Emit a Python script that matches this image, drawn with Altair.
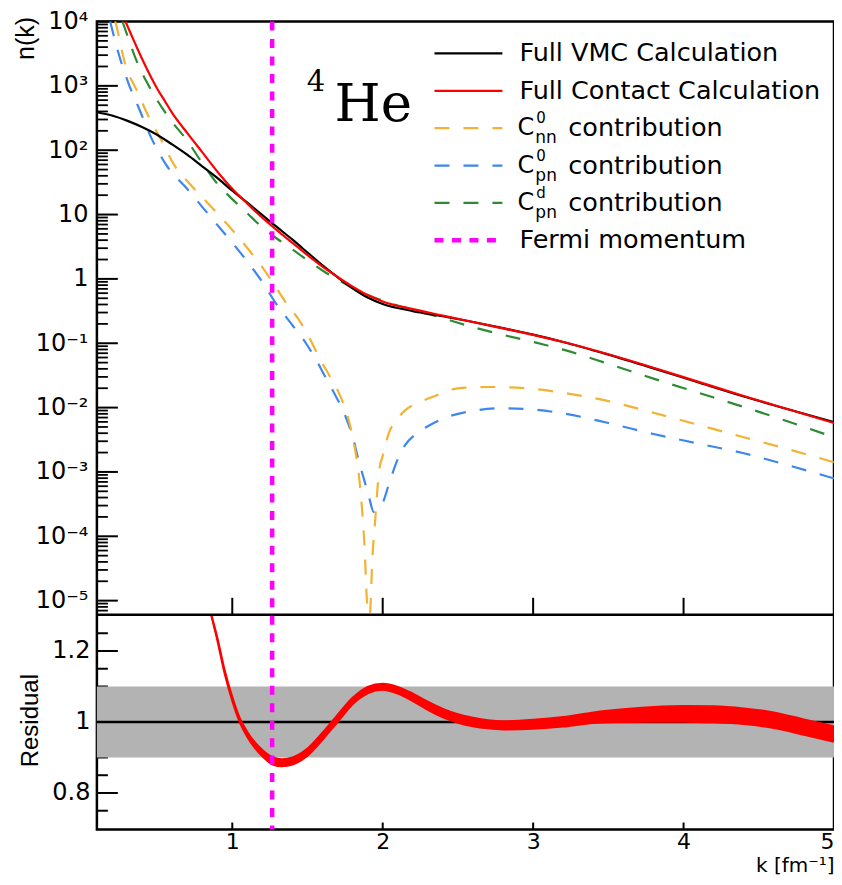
import json
import altair as alt
import pandas as pd

# ---------------- data ----------------
# k in fm^-1 ; n(k) given as log10 values
k_vmc = [0.10, 0.20, 0.30, 0.40, 0.50, 0.60, 0.70, 0.80, 0.90, 1.00, 1.10, 1.20, 1.30, 1.40,
         1.50, 1.60, 1.70, 1.80, 1.90, 2.00, 2.20, 2.40, 2.60, 2.80, 3.00, 3.20, 3.50, 3.80,
         4.10, 4.40, 4.70, 5.00]
log_vmc = [2.59, 2.54, 2.46, 2.36, 2.24, 2.09, 1.93, 1.75, 1.57, 1.37, 1.185, 0.99, 0.80, 0.61,
           0.41, 0.21, 0.026, -0.145, -0.29, -0.39, -0.50, -0.58, -0.67, -0.766, -0.867, -0.98,
           -1.177, -1.39, -1.61, -1.827, -2.03, -2.225]

k_contact = [0.29, 0.35, 0.40, 0.45, 0.50, 0.55, 0.60, 0.70, 0.80, 0.90, 1.00, 1.10, 1.20,
             1.30, 1.40, 1.50, 1.60, 1.70, 1.80, 1.90, 2.00, 2.20, 2.40, 2.60, 2.80, 3.00, 3.20,
             3.50, 3.80, 4.10, 4.40, 4.70, 5.00]
log_contact = [4.00, 3.68, 3.42, 3.18, 2.96, 2.77, 2.58, 2.27, 1.97, 1.67, 1.40, 1.17, 0.95,
               0.75, 0.56, 0.37, 0.19, 0.03, -0.12, -0.25, -0.35, -0.47, -0.57, -0.67, -0.77,
               -0.87, -0.98, -1.17, -1.38, -1.60, -1.82, -2.03, -2.24]

k_cnn0 = [0.222, 0.232, 0.29, 0.365, 0.44, 0.525, 0.617, 0.70, 0.80, 0.90, 1.00, 1.10, 1.20, 1.265,
          1.36, 1.444, 1.52, 1.577, 1.65, 1.71, 1.76, 1.795, 1.82, 1.84, 1.86, 1.88, 1.895, 1.905,
          1.915, 1.93, 1.95, 1.974, 2.00, 2.04, 2.09, 2.15, 2.23, 2.325, 2.50, 2.72, 3.00, 3.20,
          3.50, 3.80, 4.10, 4.40, 4.70, 5.00]
log_cnn0 = [4.00, 3.91, 3.32, 2.93, 2.54, 2.17, 1.76, 1.52, 1.27, 1.02, 0.76, 0.48, 0.18, -0.04,
            -0.38, -0.64, -0.95, -1.22, -1.52, -1.78, -2.08, -2.40, -2.70, -3.02, -3.50, -4.20,
            -5.00, -6.50, -5.20, -4.40, -3.75, -3.02, -2.75, -2.40, -2.20, -2.04, -1.93, -1.84,
            -1.70, -1.68, -1.71, -1.77, -1.90, -2.08, -2.27, -2.46, -2.65, -2.85]

k_cpn0 = [0.188, 0.20, 0.26, 0.31, 0.378, 0.464, 0.564, 0.70, 0.80, 0.90, 1.00, 1.10, 1.20, 1.29,
          1.40, 1.49, 1.56, 1.62, 1.69, 1.755, 1.80, 1.84, 1.88, 1.91, 1.94, 1.97, 2.00, 2.04,
          2.09, 2.15, 2.22, 2.30, 2.45, 2.60, 2.80, 3.00, 3.20, 3.50, 3.80, 4.10, 4.40, 4.70, 5.00]
log_cpn0 = [4.00, 3.89, 3.38, 3.04, 2.66, 2.18, 1.76, 1.40, 1.12, 0.84, 0.56, 0.27, -0.05, -0.38,
            -0.72, -1.00, -1.27, -1.53, -1.83, -2.15, -2.45, -2.82, -3.15, -3.40, -3.62, -3.58,
            -3.48, -3.20, -2.86, -2.58, -2.41, -2.29, -2.13, -2.05, -2.01, -2.03, -2.09, -2.24,
            -2.41, -2.56, -2.71, -2.90, -3.10]

k_cpnd = [0.27, 0.30, 0.35, 0.40, 0.45, 0.50, 0.60, 0.70, 0.80, 0.90, 1.00, 1.10, 1.20,
          1.30, 1.40, 1.50, 1.60, 1.70, 1.80, 1.90, 2.00, 2.20, 2.40, 2.60, 2.80, 3.00, 3.20,
          3.50, 3.80, 4.10, 4.40, 4.70, 5.00]
log_cpnd = [4.00, 3.80, 3.47, 3.20, 2.98, 2.78, 2.44, 2.15, 1.80, 1.48, 1.24, 1.02, 0.80,
            0.62, 0.46, 0.29, 0.13, -0.01, -0.14, -0.25, -0.34, -0.48, -0.61, -0.75, -0.87,
            -0.98, -1.10, -1.32, -1.55, -1.77, -1.99, -2.22, -2.46]

fermi_k = [1.265]

# residual (contact / VMC) band
k_res = [0.86, 0.90, 0.95, 1.00, 1.05, 1.10, 1.15, 1.20, 1.27, 1.33, 1.40, 1.50, 1.60, 1.70,
         1.80, 1.90, 2.00, 2.10, 2.20, 2.30, 2.40, 2.50, 2.60, 2.70, 2.80, 3.00, 3.20, 3.40,
         3.60, 3.80, 4.00, 4.20, 4.40, 4.60, 4.80, 5.00]
res_lo = [1.316, 1.231, 1.135, 1.059, 0.999, 0.958, 0.927, 0.903, 0.880, 0.875, 0.880, 0.905,
          0.950, 1.000, 1.050, 1.081, 1.091, 1.080, 1.059, 1.034, 1.013, 0.998, 0.988, 0.982,
          0.979, 0.981, 0.987, 0.997, 1.000, 1.001, 1.001, 0.999, 0.994, 0.983, 0.964, 0.944]
res_hi = [1.324, 1.239, 1.145, 1.071, 1.011, 0.972, 0.943, 0.921, 0.900, 0.895, 0.900, 0.925,
          0.970, 1.020, 1.068, 1.099, 1.108, 1.099, 1.080, 1.057, 1.037, 1.022, 1.012, 1.005,
          1.002, 1.006, 1.014, 1.027, 1.036, 1.042, 1.045, 1.044, 1.038, 1.027, 1.007, 0.988]
k_ref = [0.1, 5.0]
res_ref = [1.0, 1.0]
band_lo = [0.9]
band_hi = [1.1]

# axis ticks / labels
ytick_vals = [1e-5, 1e-4, 1e-3, 1e-2, 1e-1, 1, 10, 100, 1000, 10000]
ytick_text = ["10⁻⁵", "10⁻⁴", "10⁻³", "10⁻²", "10⁻¹", "1", "10", "10²", "10³", "10⁴"]
yminor_vals = [m * 10.0 ** d for d in range(-6, 4) for m in range(2, 10)
               if 10 ** -5.22 <= m * 10.0 ** d <= 1e4]
xtick_vals = [1, 2, 3, 4]
xlabel_vals = [1, 2, 3, 4, 5]
rtick_major = [0.8, 1.0, 1.2]
rtick_minor = [0.75, 0.85, 0.9, 0.95, 1.05, 1.1, 1.15, 1.25]

legend_text = ["Full VMC Calculation", "Full Contact Calculation", "contribution",
               "contribution", "contribution", "Fermi momentum"]
legend_sup = ["", "", "0", "0", "d", ""]
legend_sub = ["", "", "nn", "pn", "pn", ""]

# ---------------- styling / layout ----------------
C_BLACK = "#000000"
C_RED = "#ff0000"
C_YEL = "#f2b233"
C_BLUE = "#3d87ee"
C_GREEN = "#2e8b34"
C_MAG = "#ff00ff"
C_GREY = "#b3b3b3"
DASH = [15, 14]
FDASH = [9, 8.5]
SANS = "DejaVu Sans"

W = 738          # plot width
H_TOP = 594      # upper panel height
H_BOT = 215      # residual panel height
H = H_TOP + H_BOT


def curve(ks, logs):
    return pd.DataFrame({"k": ks, "n": [10.0 ** v for v in logs]})


xscale = alt.Scale(domain=[0.1, 5.0], nice=False, zero=False)
xaxis = alt.Axis(values=xlabel_vals, format="d", labelFont=SANS, labelFontSize=22,
                 labelColor="black", labelPadding=2, labelFlush=True, ticks=False,
                 tickSize=0, domain=False, grid=False,
                 title="k [fm⁻¹]", titleFont=SANS, titleFontSize=20,
                 titleFontWeight="normal", titleColor="black", titleAnchor="end",
                 titleAlign="right", titleBaseline="alphabetic", titleX=W, titleY=42)

yscale_top = alt.Scale(type="log", domain=[10 ** -5.22, 1e4], range=[H_TOP, 0], nice=False,
                       clamp=True)
yscale_bot = alt.Scale(domain=[0.697, 1.302], range=[H, H_TOP], nice=False, zero=False,
                       clamp=True)

label_expr = "[" + ",".join(json.dumps(t, ensure_ascii=False) for t in ytick_text) + \
    "][round(log(datum.value)/LN10) + 5]"

yaxis_top = alt.Axis(orient="left", values=ytick_vals, labelExpr=label_expr, labelFont=SANS,
                     labelFontSize=24, labelColor="black", labelPadding=9, ticks=False,
                     tickSize=0, domain=False, grid=False, title="n(k)",
                     titleFont="Liberation Sans", titleFontSize=25, titleFontWeight="normal",
                     titleColor="black", titleAngle=270, titleAlign="right",
                     titleBaseline="top", titleX=-83, titleY=-5)
yaxis_bot = alt.Axis(orient="left", values=rtick_major,
                     labelExpr="datum.value == 1 ? '1' : format(datum.value, '.1f')",
                     labelFont=SANS, labelFontSize=24, labelColor="black", labelPadding=7,
                     ticks=False, tickSize=0, domain=False, grid=False, title="Residual",
                     titleFont="Liberation Sans", titleFontSize=24, titleFontWeight="normal",
                     titleColor="black", titleAngle=270, titleAlign="center",
                     titleBaseline="top", titleX=-78, titleY=H_TOP + H_BOT / 2 - 2)


def X(f="k"):
    return alt.X(f"{f}:Q", scale=xscale, axis=xaxis)


def YT(f="n", axis=False):
    return alt.Y(f"{f}:Q", scale=yscale_top, axis=yaxis_top if axis else None)


def YB(f, axis=False):
    return alt.Y(f"{f}:Q", scale=yscale_bot, axis=yaxis_bot if axis else None)


one = pd.DataFrame({"a": [0]})
layers = []

# ---------------- upper panel ----------------
layers.append(alt.Chart(pd.DataFrame({"v": yminor_vals})).mark_rule(color="black", strokeWidth=1.8)
              .encode(y=YT("v"), x=alt.value(0), x2=alt.value(11)))
layers.append(alt.Chart(pd.DataFrame({"v": ytick_vals})).mark_rule(color="black", strokeWidth=2)
              .encode(y=YT("v", axis=True), x=alt.value(0), x2=alt.value(21)))
layers.append(alt.Chart(pd.DataFrame({"k": xtick_vals})).mark_rule(color="black", strokeWidth=2)
              .encode(x=X(), y=alt.value(H_TOP - 17), y2=alt.value(H_TOP)))

for ks, logs, col in [(k_cpnd, log_cpnd, C_GREEN), (k_cpn0, log_cpn0, C_BLUE),
                      (k_cnn0, log_cnn0, C_YEL)]:
    layers.append(alt.Chart(curve(ks, logs)).mark_line(color=col, strokeWidth=2.2,
                                                       strokeDash=DASH, interpolate="monotone")
                  .encode(x=X(), y=YT()))
layers.append(alt.Chart(curve(k_vmc, log_vmc)).mark_line(color=C_BLACK, strokeWidth=2.2,
                                                         interpolate="monotone")
              .encode(x=X(), y=YT()))
layers.append(alt.Chart(curve(k_contact, log_contact)).mark_line(color=C_RED, strokeWidth=2.2,
                                                                 interpolate="monotone")
              .encode(x=X(), y=YT()))

# legend (drawn as in the original ROOT legend)
leg_cols = [C_BLACK, C_RED, C_YEL, C_BLUE, C_GREEN, C_MAG]
leg_dash = [None, None, DASH, DASH, DASH, FDASH]
leg_width = [2.2, 2.2, 2.2, 2.2, 2.2, 4.5]
LX0, LX1, LT = 338, 406, 423
for i in range(6):
    yrow = 32 + 37.4 * i
    kw = dict(color=leg_cols[i], strokeWidth=leg_width[i])
    if leg_dash[i]:
        kw["strokeDash"] = leg_dash[i]
    layers.append(alt.Chart(one).mark_rule(**kw)
                  .encode(x=alt.value(LX0), x2=alt.value(LX1), y=alt.value(yrow)))
    if legend_sup[i]:
        layers.append(alt.Chart(one).mark_text(text="C", align="left", baseline="middle",
                                               font=SANS, fontSize=24, color="black")
                      .encode(x=alt.value(LT - 2), y=alt.value(yrow)))
        layers.append(alt.Chart(one).mark_text(text=legend_sup[i], align="left", baseline="middle",
                                               font=SANS, fontSize=15, color="black")
                      .encode(x=alt.value(LT + 17), y=alt.value(yrow - 10)))
        layers.append(alt.Chart(one).mark_text(text=legend_sub[i], align="left", baseline="middle",
                                               font=SANS, fontSize=17, color="black")
                      .encode(x=alt.value(LT + 16), y=alt.value(yrow + 10)))
        layers.append(alt.Chart(one).mark_text(text=legend_text[i], align="left",
                                               baseline="middle", font=SANS, fontSize=25.5,
                                               color="black")
                      .encode(x=alt.value(LT + 49), y=alt.value(yrow)))
    else:
        layers.append(alt.Chart(one).mark_text(text=legend_text[i], align="left",
                                               baseline="middle", font=SANS, fontSize=25.5,
                                               color="black")
                      .encode(x=alt.value(LT), y=alt.value(yrow)))

# nucleus label
layers.append(alt.Chart(one).mark_text(text="4", align="left", baseline="alphabetic",
                                       font="DejaVu Serif", fontSize=29, color="black")
              .encode(x=alt.value(210), y=alt.value(70)))
layers.append(alt.Chart(one).mark_text(text="He", align="left", baseline="alphabetic",
                                       font="DejaVu Serif", fontSize=53, color="black")
              .encode(x=alt.value(238), y=alt.value(100)))

# ---------------- residual panel ----------------
res_df = pd.DataFrame({"k": k_res, "lo": res_lo, "hi": res_hi})

layers.append(alt.Chart(pd.DataFrame({"v": rtick_minor})).mark_rule(color="black", strokeWidth=2)
              .encode(y=YB("v"), x=alt.value(0), x2=alt.value(11)))
layers.append(alt.Chart(pd.DataFrame({"v": rtick_major})).mark_rule(color="black", strokeWidth=2)
              .encode(y=YB("v", axis=True), x=alt.value(0), x2=alt.value(21)))
layers.append(alt.Chart(pd.DataFrame({"k0": [k_ref[0]], "k1": [k_ref[1]], "lo": band_lo,
                                      "hi": band_hi}))
              .mark_rect(color=C_GREY)
              .encode(x=X("k0"), x2="k1:Q", y=YB("lo"), y2="hi:Q"))
layers.append(alt.Chart(pd.DataFrame({"k": k_ref, "r": res_ref})).mark_line(color="black",
                                                                           strokeWidth=2.6)
              .encode(x=X(), y=YB("r")))
layers.append(alt.Chart(res_df)
              .mark_area(color=C_RED, interpolate="monotone", opacity=1)
              .encode(x=X(), y=YB("lo"), y2="hi:Q"))
layers.append(alt.Chart(res_df)
              .mark_line(color=C_RED, interpolate="monotone", strokeWidth=2)
              .encode(x=X(), y=YB("lo")))
layers.append(alt.Chart(res_df)
              .mark_line(color=C_RED, interpolate="monotone", strokeWidth=2)
              .encode(x=X(), y=YB("hi")))
layers.append(alt.Chart(pd.DataFrame({"k": xtick_vals})).mark_rule(color="black", strokeWidth=2)
              .encode(x=X(), y=alt.value(H - 7), y2=alt.value(H)))

# panel separator and Fermi momentum line (through both panels)
layers.append(alt.Chart(one).mark_rule(color="black", strokeWidth=2.5)
              .encode(x=alt.value(0), x2=alt.value(W), y=alt.value(H_TOP)))
layers.append(alt.Chart(pd.DataFrame({"k": fermi_k})).mark_rule(color=C_MAG, strokeWidth=4.5,
                                                                 strokeDash=FDASH)
              .encode(x=X()))

chart = (alt.layer(*layers)
         .resolve_scale(y="independent")
         .resolve_axis(y="independent")
         .properties(width=W, height=H,
                     autosize=alt.AutoSizeParams(type="none"),
                     padding={"left": 89, "top": 13, "right": 0, "bottom": 46},
                     background="white")
         .configure_view(stroke="black", strokeWidth=2.5))

chart.save("out.html", embed_options={"renderer": "svg", "actions": False})
